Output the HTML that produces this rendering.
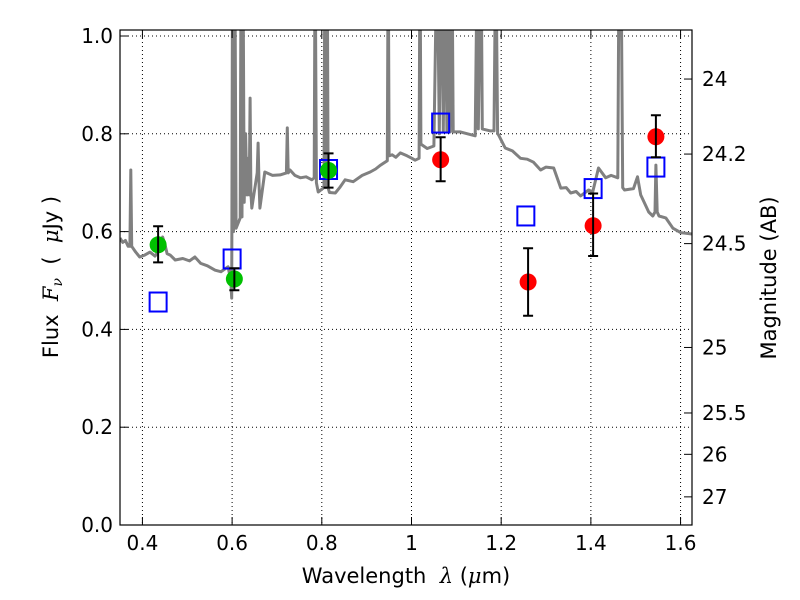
<!DOCTYPE html>
<html><head><meta charset="utf-8"><style>
body{margin:0;background:#fff;}
svg{display:block;font-family:"DejaVu Sans","Liberation Sans",sans-serif;}
</style></head><body>
<svg id="chart" width="800" height="600" viewBox="0 0 800 600" xmlns="http://www.w3.org/2000/svg">
<g id="grid"></g>
<g id="spec"></g>
<g id="marks"></g>
<g id="axes"></g>
<text x="406" y="583" font-size="21" text-anchor="middle">Wavelength&#160;&#160;<tspan font-family="DejaVu Serif" font-style="italic">λ</tspan> (<tspan font-family="DejaVu Serif" font-style="italic">μ</tspan>m)</text>
<text transform="translate(58,277) rotate(-90)" font-size="21" text-anchor="middle">Flux&#160;&#160;<tspan font-family="DejaVu Serif" font-style="italic">F<tspan font-size="14" dy="4">ν</tspan></tspan><tspan dy="-4">&#160;&#160;(&#160;&#160;</tspan><tspan font-family="DejaVu Serif" font-style="italic">μ</tspan>Jy )</text>
<text transform="translate(776,278) rotate(-90)" font-size="21" text-anchor="middle">Magnitude (AB)</text>
</svg>
<script>
const xTicks=[0.4,0.6,0.8,1.0,1.2,1.4,1.6];
const xTickLabels=["0.4","0.6","0.8","1","1.2","1.4","1.6"];
const yTicks=[0,0.2,0.4,0.6,0.8,1.0];
const yTickLabels=["0.0","0.2","0.4","0.6","0.8","1.0"];
const magTicks=[24,24.2,24.5,25,25.5,26,27];
const magTickLabels=["24","24.2","24.5","25","25.5","26","27"];
const specLam=[0.35,0.356,0.362,0.368,0.372,0.374,0.376,0.385,0.394,0.405,0.417,0.428,0.44,0.445,0.450,0.455,0.462,0.473,0.49,0.505,0.517,0.53,0.545,0.562,0.575,0.591,0.597,0.599,0.601,0.603,0.606,0.609,0.618,0.620,0.622,0.624,0.627,0.630,0.633,0.636,0.638,0.640,0.642,0.644,0.656,0.658,0.660,0.662,0.673,0.69,0.707,0.721,0.723,0.725,0.729,0.74,0.752,0.765,0.778,0.783,0.785,0.788,0.792,0.805,0.807,0.809,0.812,0.814,0.817,0.830,0.84,0.852,0.87,0.89,0.908,0.92,0.931,0.946,0.948,0.950,0.957,0.965,0.975,0.99,1.001,1.008,1.017,1.019,1.021,1.024,1.035,1.050,1.057,1.062,1.067,1.071,1.075,1.079,1.082,1.086,1.090,1.093,1.097,1.109,1.125,1.142,1.147,1.149,1.155,1.158,1.176,1.184,1.188,1.192,1.194,1.209,1.225,1.243,1.258,1.272,1.288,1.30,1.317,1.333,1.345,1.355,1.367,1.377,1.395,1.404,1.417,1.433,1.445,1.460,1.463,1.467,1.471,1.475,1.495,1.504,1.511,1.529,1.538,1.543,1.545,1.548,1.552,1.567,1.583,1.60,1.627];
const specFlux=[0.587,0.578,0.582,0.57,0.57,0.726,0.57,0.558,0.548,0.552,0.558,0.55,0.565,0.589,0.575,0.555,0.552,0.542,0.545,0.54,0.548,0.535,0.53,0.521,0.518,0.528,0.5,0.464,1.2,0.6,1.2,0.607,0.628,1.2,0.63,1.2,0.66,0.8,0.675,0.75,0.675,0.873,0.68,0.648,0.72,0.781,0.7,0.648,0.722,0.715,0.716,0.72,0.812,0.72,0.726,0.715,0.71,0.712,0.706,0.71,1.2,0.7,0.681,0.69,1.2,0.69,1.2,0.69,0.68,0.679,0.69,0.706,0.702,0.715,0.722,0.728,0.736,0.745,1.2,0.755,0.757,0.752,0.761,0.755,0.75,0.746,0.75,1.2,0.78,0.777,0.77,0.775,1.2,0.8,1.2,0.804,1.2,0.804,1.2,0.804,1.2,0.804,0.804,0.804,0.8,0.796,1.2,0.81,1.2,0.81,0.806,0.806,1.2,0.8,0.798,0.771,0.765,0.75,0.748,0.742,0.726,0.732,0.73,0.689,0.69,0.679,0.682,0.673,0.685,0.681,0.73,0.71,0.715,0.71,1.2,1.2,0.69,0.685,0.688,0.712,0.675,0.64,0.632,0.64,0.736,0.64,0.632,0.628,0.607,0.598,0.595];
const greenLam=[0.435,0.605,0.815];
const greenFlux=[0.573,0.503,0.725];
const greenLo=[0.537,0.48,0.69];
const greenHi=[0.611,0.525,0.76];
const redLam=[1.065,1.26,1.405,1.545];
const redFlux=[0.747,0.497,0.612,0.794];
const redLo=[0.703,0.428,0.55,0.752];
const redHi=[0.793,0.566,0.678,0.838];
const blueLam=[0.435,0.6,0.815,1.065,1.255,1.405,1.545];
const blueFlux=[0.456,0.544,0.727,0.822,0.632,0.688,0.732];

const L=120,R=692,T=30,B=525;
const x0=0.35,x1=1.6255,y0=0,y1=1.0123;
const sx=v=>L+(v-x0)/(x1-x0)*(R-L);
const sy=v=>B-(v-y0)/(y1-y0)*(B-T);
const magToFlux=m=>Math.pow(10,(23.9-m)/2.5);
const NS="http://www.w3.org/2000/svg";
function mk(tag,parent,attrs){const e=document.createElementNS(NS,tag);for(const k in attrs)e.setAttribute(k,attrs[k]);parent.appendChild(e);return e;}
const grid=document.getElementById('grid'),axes=document.getElementById('axes'),spec=document.getElementById('spec'),marks=document.getElementById('marks');
xTicks.forEach((v,i)=>{
  const g=mk('line',grid,{x1:sx(v),x2:sx(v),y1:T,y2:B,stroke:'#000','stroke-width':1,'stroke-dasharray':'1,3'});
  
  
  const t1=mk('line',axes,{x1:sx(v),x2:sx(v),y1:B,y2:B-8,stroke:'#000','stroke-width':1});
  
  
  const t2=mk('line',axes,{x1:sx(v),x2:sx(v),y1:T,y2:T+8,stroke:'#000','stroke-width':1});
  
  
  const tx=mk('text',axes,{x:sx(v),y:B+25,'font-size':20,'text-anchor':'middle'});
  tx.textContent=xTickLabels[i];
  
  
});
yTicks.forEach((v,i)=>{
  const g=mk('line',grid,{x1:L,x2:R,y1:sy(v),y2:sy(v),stroke:'#000','stroke-width':1,'stroke-dasharray':'1,3'});
  
  
  const t=mk('line',axes,{x1:L,x2:L+8,y1:sy(v),y2:sy(v),stroke:'#000','stroke-width':1});
  
  
  const tx=mk('text',axes,{x:L-7,y:sy(v)+7,'font-size':20,'text-anchor':'end'});
  tx.textContent=yTickLabels[i];
  
  
});
magTicks.forEach((m,i)=>{
  const y=sy(magToFlux(m));
  const t=mk('line',axes,{x1:R,x2:R-8,y1:y,y2:y,stroke:'#000','stroke-width':1});
  
  
  const tx=mk('text',axes,{x:R+10,y:y+7,'font-size':20,'text-anchor':'start'});
  tx.textContent=magTickLabels[i];
  
  
});
const cp=mk('clipPath',spec,{id:'clip'});mk('rect',cp,{x:L,y:T,width:R-L,height:B-T});
const pts=specLam.map((l,i)=>sx(l).toFixed(1)+','+sy(specFlux[i]).toFixed(1)).join(' ');
const pl=mk('polyline',spec,{points:pts,fill:'none',stroke:'#808080','stroke-width':3,'stroke-linejoin':'round','clip-path':'url(#clip)'});


function errbar(lam,lo,hi){
  const x=sx(lam);
  const e=mk('path',marks,{d:`M${x},${sy(lo)}V${sy(hi)}M${x-5},${sy(lo)}h10M${x-5},${sy(hi)}h10`,stroke:'#000','stroke-width':2,fill:'none'});
  
  
}
blueLam.forEach((l,i)=>{
  const r=mk('rect',marks,{x:sx(l)-8.5,y:sy(blueFlux[i])-9.5,width:17,height:19,fill:'none',stroke:'#0000ff','stroke-width':2});
  
  
});
greenLam.forEach((l,i)=>{
  const c=mk('circle',marks,{cx:sx(l),cy:sy(greenFlux[i]),r:8.5,fill:'#00c000'});
  
  
  errbar(l,greenLo[i],greenHi[i]);
});
redLam.forEach((l,i)=>{
  const c=mk('circle',marks,{cx:sx(l),cy:sy(redFlux[i]),r:8.5,fill:'#ff0000'});
  
  
  errbar(l,redLo[i],redHi[i]);
});
const fr=mk('rect',axes,{x:L,y:T,width:R-L,height:B-T,fill:'none',stroke:'#000','stroke-width':1.2});


</script>
</body></html>
